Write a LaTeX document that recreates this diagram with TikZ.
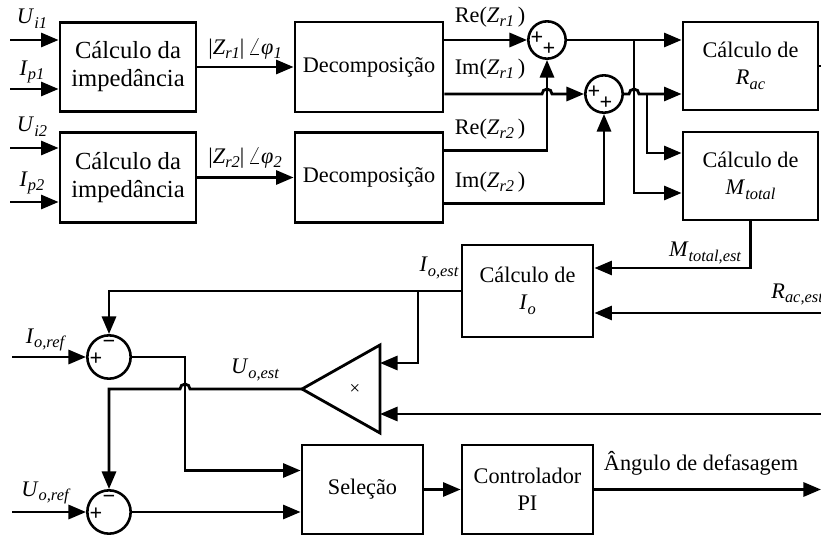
\documentclass[tikz,border=0pt]{standalone}
\usepackage{fontspec}
\setmainfont{Liberation Serif}
\usetikzlibrary{calc, positioning, arrows.meta}

% italic symbol with lowered italic index
\newcommand\sgl[2]{\textit{#1}\raisebox{-0.45ex}{\fontsize{14}{14}\selectfont\itshape #2}}

\tikzset{
  blk/.style={draw, line width=2.4pt, align=center, inner sep=0pt, font=\fontsize{19}{23}\selectfont},
  sumnode/.style={draw, circle, line width=2.2pt, inner sep=0pt},
  wire/.style={line width=2.4pt},
  arr/.style={wire, -{Triangle[length=15pt, width=12pt]}},
  lbl/.style={inner sep=1pt, font=\fontsize{19}{21}\selectfont},
  sgn/.style={inner sep=0pt, font=\fontsize{19}{19}\selectfont\bfseries},
}

\begin{document}
\begin{tikzpicture}[x=0.03cm, y=-0.03cm]
  \useasboundingbox (0,0) rectangle (821,536);

  % blocks
  \node[blk, minimum width=4.08cm, minimum height=2.67cm, font=\fontsize{21}{24}\selectfont] (imp1) at (128,67) {Cálculo da\\impedância};
  \node[blk, minimum width=4.08cm, minimum height=2.7cm, font=\fontsize{21}{24}\selectfont] (imp2) at (128,177.5) {Cálculo da\\impedância};
  \node[blk, minimum width=4.44cm, minimum height=2.7cm] (dec1) at (369,67) {Decomposição};
  \node[blk, minimum width=4.44cm, minimum height=2.7cm] (dec2) at (369,177.5) {Decomposição};
  \node[blk, minimum width=4.05cm, minimum height=2.64cm] (rac) at (750.5,66) {Cálculo de\\\sgl{R}{ac}};
  \node[blk, minimum width=4.05cm, minimum height=2.64cm] (mtot) at (750.5,176) {Cálculo de\\\sgl{M}{total}};
  \node[blk, minimum width=3.93cm, minimum height=2.76cm] (calcio) at (527.5,291) {Cálculo de\\\sgl{I}{o}};
  \node[blk, minimum width=3.63cm, minimum height=2.67cm] (sel) at (362.5,489.5) {Seleção};
  \node[blk, minimum width=3.93cm, minimum height=2.67cm] (pi) at (527.5,489.5) {Controlador\\PI};

  % summing junctions
  \node[sumnode, minimum size=1.12cm] (s1) at (547,40) {};
  \node[sumnode, minimum size=1.12cm] (s2) at (604,94) {};
  \node[sumnode, minimum size=1.3cm] (s3) at (109,357) {};
  \node[sumnode, minimum size=1.3cm] (s4) at (109,512) {};
  \node[sgn] (s1a) at ($(s1)+(-10,-2)$) {+};
  \node[sgn] (s1b) at ($(s1)+(2,9)$) {+};
  \node[sgn] (s2a) at ($(s2)+(-10,-2)$) {+};
  \node[sgn] (s2b) at ($(s2)+(2,9)$) {+};
  \node[sgn] (s3a) at ($(s3)+(-13,2)$) {+};
  \node[sgn] (s3b) at ($(s3)+(0,-13)$) {−};
  \node[sgn] (s4a) at ($(s4)+(-13,2)$) {+};
  \node[sgn] (s4b) at ($(s4)+(0,-13)$) {−};

  % multiplier
  \coordinate (mtip) at (302,389);
  \coordinate (mtop) at (380,345);
  \coordinate (mbot) at (380,433);
  \draw[wire, line join=miter] (mtip) -- (mtop) -- (mbot) -- cycle;
  \node[font=\fontsize{16}{16}\selectfont] (mulx) at (355,389) {×};
  \coordinate (mulin1) at (380,363);
  \coordinate (mulin2) at (380,414);

  % inputs
  \coordinate (ui1) at (10,40);
  \coordinate (ip1) at (10,89);
  \coordinate (ui2) at (10,148);
  \coordinate (ip2) at (10,202);
  \draw[arr] (ui1) -- (ui1 -| imp1.west);
  \draw[arr] (ip1) -- (ip1 -| imp1.west);
  \draw[arr] (ui2) -- (ui2 -| imp2.west);
  \draw[arr] (ip2) -- (ip2 -| imp2.west);
  \node[lbl] (lui1) at (32,19) {\sgl{U}{i1}};
  \node[lbl] (lip1) at (32,72) {\sgl{I}{p1}};
  \node[lbl] (lui2) at (32,127) {\sgl{U}{i2}};
  \node[lbl] (lip2) at (32,183) {\sgl{I}{p2}};

  % impedance -> decomposition
  \draw[arr] (imp1) -- (dec1);
  \draw[arr] (imp2) -- (dec2);
  \node[lbl] (lz1) at (245,49) {|\sgl{Z}{r1}|\,$\angle$\sgl{φ}{1}};
  \node[lbl] (lz2) at (245,158) {|\sgl{Z}{r2}|\,$\angle$\sgl{φ}{2}};

  % real and imaginary parts
  \coordinate (re2) at ($(dec2.east)+(0,-27)$);
  \coordinate (im2) at ($(dec2.east)+(0,26)$);
  \draw[arr] (dec1.east |- s1) -- (s1);
  \draw[arr] (dec1.east |- s2) -- ($(s1 |- s2)+(-5,0)$) arc[start angle=180, end angle=360, radius=5] -- (s2);
  \draw[arr] (re2) -| (s1);
  \draw[arr] (im2) -| (s2);
  \node[lbl] (lre1) at (490,17) {Re(\sgl{Z}{r1}\,)};
  \node[lbl] (lim1) at (490,69) {Im(\sgl{Z}{r1}\,)};
  \node[lbl] (lre2) at (490,129) {Re(\sgl{Z}{r2}\,)};
  \node[lbl] (lim2) at (490,182) {Im(\sgl{Z}{r2}\,)};

  % sums -> Rac, Mtotal
  \coordinate (br1) at (634,40);
  \coordinate (br2) at (647,94);
  \draw[arr] (s1) -- (s1 -| rac.west);
  \draw[arr] (s2) -- ($(br1 |- s2)+(-5,0)$) arc[start angle=180, end angle=360, radius=5] -- (s2 -| rac.west);
  \draw[arr] (br1) |- ($(mtot.west)+(0,17)$);
  \draw[arr] (br2) |- ($(mtot.west)+(0,-23)$);
  \coordinate (racend) at (821,66);
  \draw[wire] (rac.east) -- (racend);

  % estimates -> Io
  \draw[arr] (mtot.south) |- ($(calcio.east)+(0,-23)$);
  \node[lbl] (lmt) at (705,253) {\sgl{M}{total,est}};
  \coordinate (racest) at (821,313);
  \draw[arr] (racest) -- (racest -| calcio.east);
  \node[lbl, anchor=base west] (lra) at (770,298) {\sgl{R}{ac,est}};

  % Io feedback
  \coordinate (br3) at (418,291);
  \draw[arr] (calcio.west) -| (s3);
  \draw[arr] (br3) |- (mulin1);
  \node[lbl] (lio) at (439,268) {\sgl{I}{o,est}};
  \coordinate (rin) at (821,414);
  \draw[arr] (rin) -- (mulin2);

  % Uo feedback
  \draw[arr] (mtip) -- (190,389) arc[start angle=360, end angle=180, radius=5] -| (s4);
  \node[lbl] (luo) at (255,370) {\sgl{U}{o,est}};

  % references
  \coordinate (ioref) at (12,357);
  \coordinate (uoref) at (12,512);
  \draw[arr] (ioref) -- (s3);
  \draw[arr] (uoref) -- (s4);
  \node[lbl] (lior) at (45,340) {\sgl{I}{o,ref}};
  \node[lbl] (luor) at (45,493) {\sgl{U}{o,ref}};

  % selection and controller
  \coordinate (s3r) at (185,357);
  \draw[arr] (s3) -- (s3r) |- ($(sel.west)+(0,-19)$);
  \draw[arr] (s4) -- (s4 -| sel.west);
  \draw[arr] (sel) -- (pi);
  \coordinate (angend) at (821,489.5);
  \draw[arr] (pi) -- (angend);
  \node[lbl, font=\fontsize{19}{22}\selectfont] (lang) at (701,463) {Ângulo de defasagem};
\end{tikzpicture}
\end{document}
